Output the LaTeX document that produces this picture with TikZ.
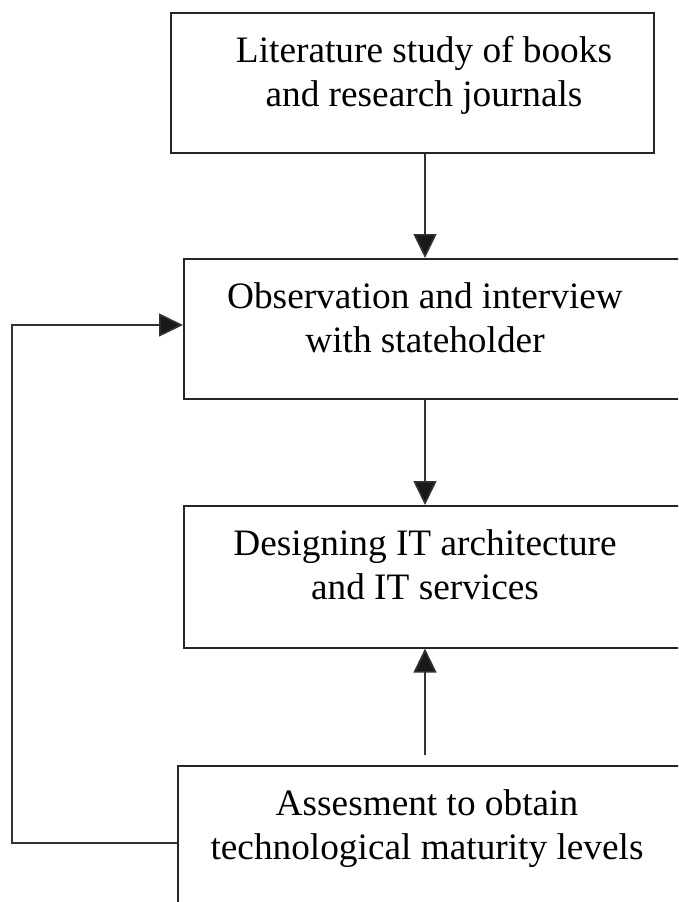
\documentclass[tikz,border=0pt]{standalone}
\usepackage{fontspec}
\setmainfont{Liberation Serif}
\usetikzlibrary{arrows.meta}
\begin{document}
\begin{tikzpicture}[x=1pt,y=-1pt,
  boxstyle/.style={draw=black!85,line width=1.6pt,rectangle,inner sep=0pt,anchor=north west},
  txt/.style={font=\fontsize{37.3}{43.5}\selectfont,align=center,inner sep=0pt,anchor=north,text=black},
  arr/.style={draw=black!80,line width=1.6pt,-{Triangle[length=24pt,width=23pt,fill=black!90]}}]
\useasboundingbox (0,0) rectangle (678,902);
\clip (0,0) rectangle (678,902);
\node[boxstyle,minimum width=483pt,minimum height=140pt] (b1) at (170,12) {};
\node[boxstyle,minimum width=520pt,minimum height=140pt] (b2) at (183,258) {};
\node[boxstyle,minimum width=520pt,minimum height=142pt] (b3) at (183,505) {};
\node[boxstyle,minimum width=525pt,minimum height=200pt] (b4) at (177,765) {};
\node[txt] (t1) at (424,36.5) {Literature study of books\\and research journals};
\node[txt] (t2) at (425,282.5) {Observation and interview\\with stateholder};
\node[txt] (t3) at (425,529.5) {Designing IT architecture\\and IT services};
\node[txt] (t4) at (427,789.5) {Assesment to obtain\\technological maturity levels};
\draw[arr] (t2 |- b1.south) -- (t2 |- b2.north);
\draw[arr] (t2 |- b2.south) -- (t2 |- b3.north);
\draw[arr] ([yshift=10pt]t2 |- b4.north) -- (t2 |- b3.south);
\coordinate (fbl) at (12,325);
\draw[arr] ([yshift=-78pt]b4.north west) -| (fbl) -- (fbl -| b2.west);
\end{tikzpicture}
\end{document}
